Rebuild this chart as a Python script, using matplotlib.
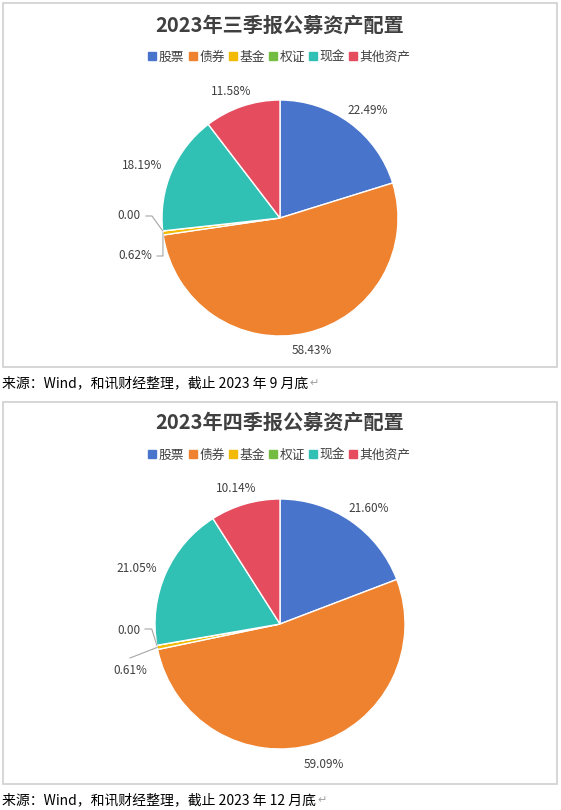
import numpy as np
import matplotlib
matplotlib.use("Agg")
import matplotlib.pyplot as plt
from matplotlib.lines import Line2D
from matplotlib.patches import Rectangle

plt.rcParams['font.family'] = ['Noto Sans CJK SC', 'DejaVu Sans']

# data
categories = ['股票', '债券', '基金', '权证', '现金', '其他资产']
colors = ['#4874CB', '#EE822F', '#F2BA02', '#75BD42', '#30C0B4', '#E54C5E']

titles = ['2023年三季报公募资产配置', '2023年四季报公募资产配置']
values_q3 = [22.49, 58.43, 0.62, 0.00, 18.19, 11.58]
values_q4 = [21.60, 59.09, 0.61, 0.00, 21.05, 10.14]
labels_q3 = ['22.49%', '58.43%', '0.62%', '0.00', '18.19%', '11.58%']
labels_q4 = ['21.60%', '59.09%', '0.61%', '0.00', '21.05%', '10.14%']
captions = ['来源：Wind，和讯财经整理，截止 2023 年 9 月底',
            '来源：Wind，和讯财经整理，截止 2023 年 12 月底']

W, H = 561, 810
fig = plt.figure(figsize=(W / 100, H / 100), dpi=100)
fig.patch.set_facecolor('white')

# layout (pixels), label spots in pie-radius units
panels = [
    dict(box=(3, 3, 557, 367), title_y=25, legend_y=57, c=(280, 218), r=118,
         cap_y=383,
         lab=[(0.746, 0.907), (0.271, -1.127), (-1.225, -0.322),
              (-1.284, 0.017), (-1.165, 0.441), (-0.415, 1.068)],
         lead={2: [(-1.042, -0.322), (-0.992, -0.322)],
               3: [(-1.136, 0.017), (-1.085, 0.017)]}),
    dict(box=(3, 402, 557, 784), title_y=422, legend_y=455, c=(280, 624), r=125,
         cap_y=800,
         lab=[(0.708, 0.928), (0.352, -1.12), (-1.2, -0.368),
              (-1.208, -0.048), (-1.148, 0.448), (-0.352, 1.08)],
         lead={2: [(-1.2, -0.272)],
               3: [(-1.08, -0.04), (-1.026, -0.04)]}),
]
data = [(values_q3, labels_q3), (values_q4, labels_q4)]

txt = '#404040'
for p, (vals, labs), title, cap in zip(panels, data, titles, captions):
    x0, y0, x1, y1 = p['box']
    fig.add_artist(Rectangle((x0 / W, 1 - y1 / H), (x1 - x0) / W, (y1 - y0) / H,
                             transform=fig.transFigure, fill=False,
                             ec='#D0D0D0', lw=1.2))
    fig.text(280 / W, 1 - p['title_y'] / H, title, ha='center', va='center',
             fontsize=14.5, fontweight='bold', color=txt)
    handles = [Line2D([], [], marker='s', ls='', color=c, markersize=6) for c in colors]
    fig.legend(handles, categories, loc='center',
               bbox_to_anchor=(280 / W, 1 - p['legend_y'] / H), ncol=6,
               frameon=False, handlelength=0.5, handletextpad=0.25,
               columnspacing=0.4, fontsize=9.2, labelcolor=txt)

    cx, cy = p['c']
    r = p['r']
    S = 380
    ax = fig.add_axes([(cx - S / 2) / W, (H - cy - S / 2) / H, S / W, S / H])
    wedges, _ = ax.pie(vals, colors=colors, startangle=90, counterclock=False,
                       wedgeprops=dict(edgecolor='white', linewidth=1))
    lim = S / 2 / r
    ax.set_xlim(-lim, lim)
    ax.set_ylim(-lim, lim)
    ax.axis('off')

    for i, (lab, (lx, ly)) in enumerate(zip(labs, p['lab'])):
        ax.text(lx, ly, lab, ha='center', va='center', fontsize=8.5, color=txt)
        if i in p['lead']:
            w = wedges[i]
            ang = np.deg2rad((w.theta1 + w.theta2) / 2)
            pts = p['lead'][i] + [(np.cos(ang), np.sin(ang))]
            xs, ys = zip(*pts)
            ax.plot(xs, ys, color='#A6A6A6', lw=0.8)

    t = fig.text(2 / W, 1 - p['cap_y'] / H, cap, ha='left', va='center',
                 fontsize=10, color='black')
    fig.canvas.draw()
    bb = t.get_window_extent()
    fig.text((bb.x1 + 1) / W, (bb.y0 + bb.y1) / 2 / H, '↵', fontsize=8,
             color='#A0A0A0', ha='left', va='center')

fig.savefig('out.png', dpi=100, facecolor='white')
